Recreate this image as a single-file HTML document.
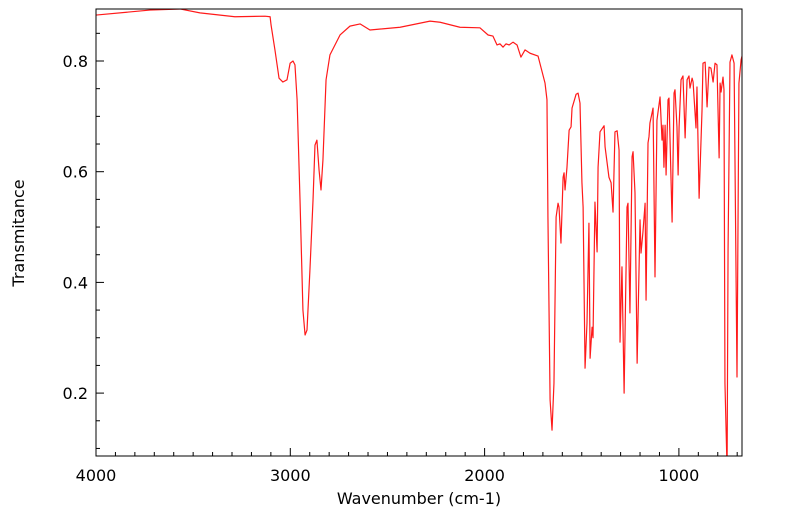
<!DOCTYPE html>
<html><head><meta charset="utf-8"><style>
html,body{margin:0;padding:0;background:#fff;}
svg{display:block;font-family:"DejaVu Sans","Liberation Sans",sans-serif;}
</style></head><body>
<svg id="chart" width="799" height="516" viewBox="0 0 799 516" xmlns="http://www.w3.org/2000/svg">
<defs><clipPath id="clip"><rect x="96" y="9" width="646" height="447"/></clipPath></defs>
<g id="ticks"></g>
<path id="series" fill="none" stroke="#ff1a1a" stroke-width="1.2" stroke-linejoin="round" clip-path="url(#clip)"/>
<rect x="96" y="9" width="646" height="447" fill="none" stroke="#000" stroke-width="1"/>
<text x="419" y="504" font-size="16" text-anchor="middle">Wavenumber (cm-1)</text>
<text transform="translate(24,233) rotate(-90)" font-size="16" text-anchor="middle">Transmitance</text>
</svg>
<script>
const wavenumbers=[4000,3722,3568,3465,3285,3130,3104,3099,3079,3058,3038,3017,3001,2986,2976,2965,2950,2935,2924,2914,2899,2883,2873,2863,2852,2842,2832,2816,2796,2744,2693,2641,2590,2435,2281,2229,2127,2024,1982,1957,1936,1921,1905,1890,1874,1854,1833,1813,1792,1766,1725,1689,1679,1674,1663,1653,1643,1632,1622,1617,1607,1596,1591,1586,1576,1565,1555,1550,1529,1519,1509,1499,1493,1483,1473,1463,1457,1447,1442,1432,1421,1416,1406,1385,1380,1360,1349,1339,1329,1318,1308,1303,1293,1282,1267,1262,1252,1241,1236,1226,1215,1200,1195,1185,1174,1169,1159,1154,1149,1133,1123,1113,1097,1087,1082,1077,1071,1066,1056,1051,1035,1025,1020,1010,1004,999,989,979,968,958,948,943,932,927,912,907,896,881,876,865,855,845,835,824,814,804,793,788,783,773,768,763,752,747,737,727,716,701,691,680,670];
const transmittance=[0.883,0.892,0.894,0.887,0.880,0.881,0.880,0.865,0.820,0.769,0.762,0.766,0.796,0.800,0.793,0.730,0.549,0.350,0.305,0.314,0.422,0.549,0.648,0.657,0.603,0.567,0.621,0.766,0.811,0.847,0.863,0.867,0.856,0.861,0.872,0.870,0.861,0.860,0.847,0.845,0.829,0.831,0.825,0.831,0.829,0.834,0.829,0.807,0.820,0.814,0.809,0.760,0.730,0.518,0.188,0.133,0.218,0.518,0.543,0.536,0.471,0.590,0.598,0.567,0.608,0.675,0.681,0.715,0.740,0.742,0.724,0.580,0.536,0.245,0.327,0.507,0.263,0.319,0.300,0.545,0.455,0.608,0.672,0.683,0.645,0.590,0.580,0.527,0.672,0.674,0.639,0.292,0.428,0.200,0.536,0.543,0.345,0.627,0.636,0.562,0.254,0.513,0.453,0.491,0.543,0.368,0.652,0.663,0.688,0.715,0.410,0.693,0.735,0.657,0.684,0.608,0.684,0.594,0.730,0.733,0.509,0.742,0.748,0.681,0.594,0.681,0.766,0.773,0.661,0.766,0.773,0.751,0.769,0.762,0.679,0.753,0.552,0.711,0.796,0.798,0.717,0.789,0.787,0.762,0.796,0.793,0.625,0.760,0.744,0.771,0.748,0.218,0.061,0.459,0.798,0.811,0.796,0.229,0.760,0.802,0.816];
const xTickValues=[4000,3000,2000,1000];
const yTickValues=[0.2,0.4,0.6,0.8];
const xMinorStep=100, yMinorStep=0.05;
const NS="http://www.w3.org/2000/svg";
function xs(w){return 96+(4000-w)*0.1943;}
function ys(t){return 61+(0.8-t)*553.5;}
let d="";
for(let i=0;i<wavenumbers.length;i++){d+=(i?"L":"M")+xs(wavenumbers[i]).toFixed(2)+","+ys(transmittance[i]).toFixed(2);}
document.getElementById("series").setAttribute("d",d);
const g=document.getElementById("ticks");
function line(x1,y1,x2,y2,name){const l=document.createElementNS(NS,"line");
l.setAttribute("x1",x1);l.setAttribute("y1",y1);l.setAttribute("x2",x2);l.setAttribute("y2",y2);
l.setAttribute("stroke","#000");l.setAttribute("stroke-width","1");


g.appendChild(l);}
function text(x,y,s,anchor,name){const t=document.createElementNS(NS,"text");
t.setAttribute("x",x);t.setAttribute("y",y);t.setAttribute("font-size","16");t.setAttribute("text-anchor",anchor);t.textContent=s;


g.appendChild(t);}
for(let w=4000;w>=676;w-=xMinorStep){const x=xs(w);const major=xTickValues.includes(w);line(x,456,x,major?448:452,major?"x-major-tick":"x-minor-tick");}
xTickValues.forEach(w=>text(xs(w),481,String(w),"middle","x-tick-label"));
for(let k=2;k<=17;k++){const t=k*yMinorStep;const y=ys(t);if(y<9||y>456)continue;const major=(k%4===0);line(96,y,major?104:100,y,major?"y-major-tick":"y-minor-tick");}
yTickValues.forEach(t=>text(88,ys(t)+6,t.toFixed(1),"end","y-tick-label"));
</script>
</body></html>
